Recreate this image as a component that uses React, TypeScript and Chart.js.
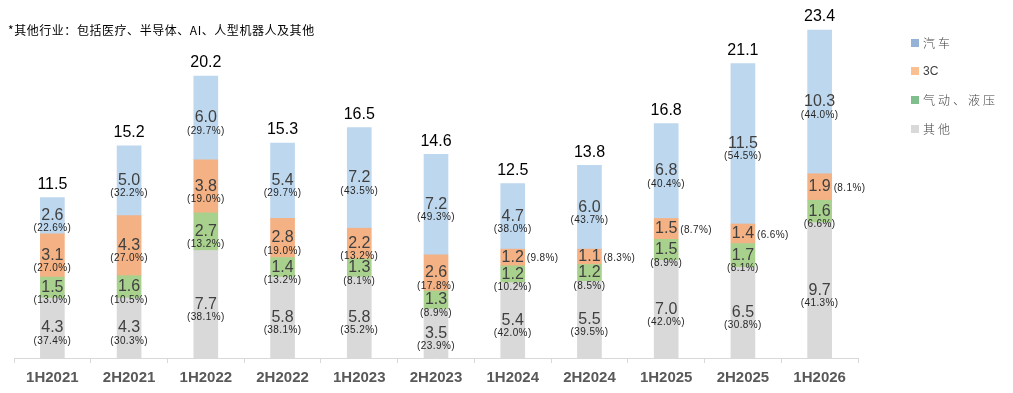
import React, { useEffect, useRef } from "react";
import { Chart, registerables } from "chart.js";

Chart.register(...registerables);

const categories = ["1H2021", "2H2021", "1H2022", "2H2022", "1H2023", "2H2023", "1H2024", "2H2024", "1H2025", "2H2025", "1H2026"];

const otherValues = [4.3, 4.3, 7.7, 5.8, 5.8, 3.5, 5.4, 5.5, 7.0, 6.5, 9.7];
const otherPct = [37.4, 30.3, 38.1, 38.1, 35.2, 23.9, 42.0, 39.5, 42.0, 30.8, 41.3];

const pneumaticValues = [1.5, 1.6, 2.7, 1.4, 1.3, 1.3, 1.2, 1.2, 1.5, 1.7, 1.6];
const pneumaticPct = [13.0, 10.5, 13.2, 13.2, 8.1, 8.9, 10.2, 8.5, 8.9, 8.1, 6.6];

const c3Values = [3.1, 4.3, 3.8, 2.8, 2.2, 2.6, 1.2, 1.1, 1.5, 1.4, 1.9];
const c3Pct = [27.0, 27.0, 19.0, 19.0, 13.2, 17.8, 9.8, 8.3, 8.7, 6.6, 8.1];

const autoValues = [2.6, 5.0, 6.0, 5.4, 7.2, 7.2, 4.7, 6.0, 6.8, 11.5, 10.3];
const autoPct = [22.6, 32.2, 29.7, 29.7, 43.5, 49.3, 38.0, 43.7, 40.4, 54.5, 44.0];

const totals = [11.5, 15.2, 20.2, 15.3, 16.5, 14.6, 12.5, 13.8, 16.8, 21.1, 23.4];

const seriesNames = ["其他", "气动、液压", "3C", "汽车"];
const seriesValues = [otherValues, pneumaticValues, c3Values, autoValues];
const seriesPct = [otherPct, pneumaticPct, c3Pct, autoPct];
const barColors = ["#d9d9d9", "#a9d18e", "#f4b183", "#bdd7ee"];
const legendColors = ["#d9d9d9", "#7fbf8e", "#fac090", "#95b3d7"];

const noteText = "*其他行业：包括医疗、半导体、AI、人型机器人及其他";

const FONT = '"Liberation Sans", Arial, sans-serif';

const labelPlugin = {
  id: "segLabels",
  afterDatasetsDraw(chart: any) {
    const ctx = chart.ctx;
    ctx.save();
    chart.data.datasets.forEach((ds: any, di: number) => {
      const meta = chart.getDatasetMeta(di);
      meta.data.forEach((bar: any, i: number) => {
        const { x, y, base, width } = bar.getProps(["x", "y", "base", "width"], true);
        const cy = (y + base) / 2;
        ctx.textAlign = "center";
        ctx.textBaseline = "middle";
        ctx.fillStyle = "#404040";
        ctx.font = `16px ${FONT}`;
        ctx.fillText(Number(ds.data[i]).toFixed(1), x, cy);
        const pct = `(${seriesPct[di][i].toFixed(1)}%)`;
        ctx.font = `10px ${FONT}`;
        ctx.fillStyle = "#262626";
        (ctx as any).letterSpacing = "0.4px";
        if (di === 2 && i >= 6) {
          ctx.textAlign = "left";
          ctx.fillText(pct, x + width / 2 + 2, cy + 1);
        } else {
          ctx.fillText(pct, x, cy + 13);
        }
        (ctx as any).letterSpacing = "0px";
      });
    });
    const top = chart.getDatasetMeta(chart.data.datasets.length - 1);
    top.data.forEach((bar: any, i: number) => {
      ctx.textAlign = "center";
      ctx.textBaseline = "middle";
      ctx.fillStyle = "#000000";
      ctx.font = `16px ${FONT}`;
      ctx.fillText(totals[i].toFixed(1), bar.x, bar.y - 13);
    });
    ctx.restore();
  },
};

export default function App() {
  const canvasRef = useRef<HTMLCanvasElement>(null);

  useEffect(() => {
    if (!canvasRef.current) return;
    const chart = new Chart(canvasRef.current, {
      type: "bar",
      data: {
        labels: categories,
        datasets: seriesNames.map((name, k) => ({
          label: name,
          data: seriesValues[k],
          backgroundColor: barColors[k],
          borderWidth: 0,
          barThickness: 24,
        })),
      },
      options: {
        responsive: false,
        animation: false,
        layout: { padding: { left: 14, right: 155, top: 23, bottom: 0 } },
        plugins: {
          legend: { display: false },
          tooltip: { enabled: false },
        },
        scales: {
          x: {
            stacked: true,
            offset: true,
            grid: {
              display: true,
              offset: true,
              drawOnChartArea: false,
              drawTicks: true,
              tickLength: 5,
              color: "#d9d9d9",
            },
            border: { display: true, color: "#d9d9d9", width: 1 },
            ticks: {
              padding: 6,
              color: "#595959",
              font: { family: FONT, size: 15, weight: "bold" },
              maxRotation: 0,
              autoSkip: false,
            },
          },
          y: {
            stacked: true,
            display: false,
            min: 0,
            max: 24,
          },
        },
      },
      plugins: [labelPlugin],
    });
    return () => chart.destroy();
  }, []);

  const legendOrder = [3, 2, 1, 0];
  const legendY = [43, 71, 100, 129];

  return (
    <div style={{ position: "absolute", left: 0, top: 0, width: 1013, height: 393, background: "#fff" }}>
      <canvas ref={canvasRef} width={1013} height={393} style={{ position: "absolute", left: 0, top: 0 }} />
      <div
        style={{
          position: "absolute",
          left: 8,
          top: 23,
          fontSize: 12,
          lineHeight: "14px",
          letterSpacing: "0.55px",
          color: "#000",
          fontFamily: '"Noto Sans CJK SC", sans-serif',
          whiteSpace: "nowrap",
        }}
      >
        {noteText}
      </div>
      {legendOrder.map((k, j) => (
        <div
          key={k}
          style={{
            position: "absolute",
            left: 911,
            top: legendY[j] - 8,
            height: 16,
            display: "flex",
            alignItems: "center",
            whiteSpace: "nowrap",
          }}
        >
          <span style={{ display: "inline-block", width: 8, height: 8, background: legendColors[k], marginRight: 4 }} />
          <span
            style={{
              fontSize: 12,
              lineHeight: "16px",
              color: "#404040",
              letterSpacing: seriesNames[k] === "3C" ? "0px" : "3px",
              fontFamily: seriesNames[k] === "3C" ? FONT : '"Noto Sans CJK SC", sans-serif',
              fontWeight: seriesNames[k] === "3C" ? 400 : 300,
            }}
          >
            {seriesNames[k]}
          </span>
        </div>
      ))}
    </div>
  );
}
